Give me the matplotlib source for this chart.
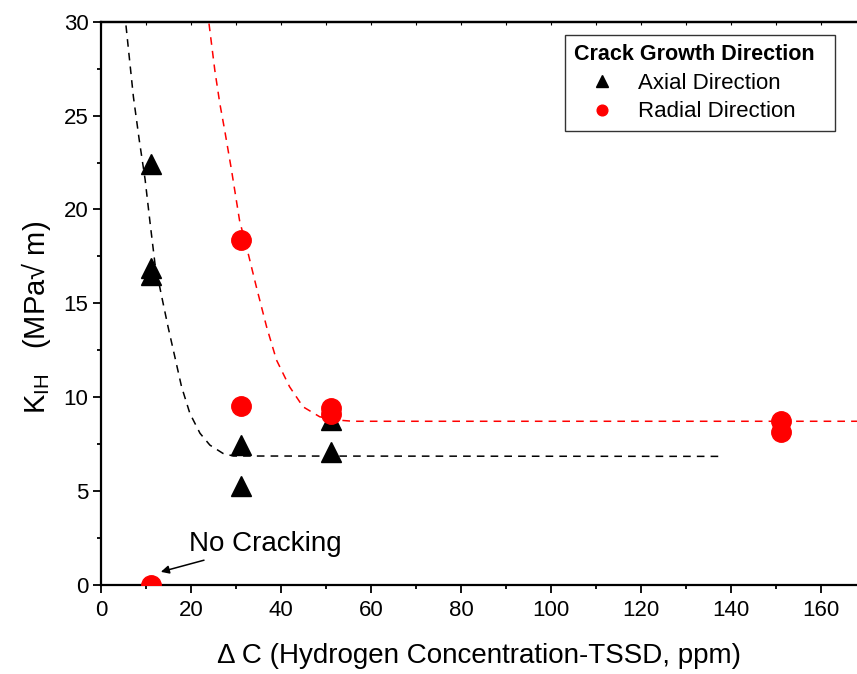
import matplotlib
matplotlib.use("Agg")
from matplotlib import pyplot as plt

# measured points (ppm above TSSD, MPa*sqrt(m))
axial_x = [11, 11, 11, 31, 31, 51, 51]
axial_y = [22.4, 16.9, 16.5, 7.45, 5.25, 8.8, 7.1]

radial_x = [11, 31, 31, 51, 51, 151, 151]
radial_y = [0.0, 18.4, 9.55, 9.45, 9.13, 8.73, 8.15]

# trend lines
axial_fit_x = [5.55, 7.2, 8.5, 9.8, 10.9, 12.0, 13.5, 14.9, 16.4, 17.9, 19.75,
               22.0, 24.2, 27.1, 29.4, 138.5]
axial_fit_y = [29.8, 26.0, 23.7, 21.6, 19.3, 17.1, 15.35, 13.75, 12.16, 10.56,
               9.14, 8.08, 7.45, 7.01, 6.87, 6.85]

radial_fit_x = [24.0, 25.3, 26.4, 27.5, 29.0, 30.8, 32.7, 34.5, 36.8, 39.0,
                41.9, 44.9, 48.6, 52.3, 56.0, 168]
radial_fit_y = [29.9, 27.4, 25.65, 24.2, 22.1, 19.4, 17.66, 15.9, 13.75, 11.98,
                10.56, 9.49, 8.96, 8.79, 8.72, 8.72]


def main():
    plt.rcParams["font.family"] = ["Liberation Sans", "DejaVu Sans"]
    plt.rcParams["mathtext.fontset"] = "custom"
    plt.rcParams["mathtext.rm"] = "Liberation Sans"

    fig = plt.figure(figsize=(8.57, 6.74), dpi=100)
    ax = fig.add_axes([101 / 857, 89 / 674, 756 / 857, 563.3 / 674])

    ax.plot(axial_fit_x, axial_fit_y, color="black", lw=1.1, dashes=(5, 4))
    ax.plot(radial_fit_x, radial_fit_y, color="red", lw=1.1, dashes=(5, 4))

    ax.plot(axial_x, axial_y, "^", color="black", ms=15, mec="black",
            label="Axial Direction", zorder=3)
    ax.plot(radial_x, radial_y, "o", color="red", ms=14, mec="red",
            label="Radial Direction", zorder=4)

    ax.set_xlim(0, 168)
    ax.set_ylim(0, 30)
    ax.set_xticks(range(0, 161, 20))
    ax.set_xticks(range(10, 161, 20), minor=True)
    ax.set_yticks(range(0, 31, 5))
    ax.set_yticks([2.5 + 5 * i for i in range(6)], minor=True)

    ax.spines["right"].set_visible(False)
    for s in ["left", "bottom", "top"]:
        ax.spines[s].set_linewidth(1.6)

    ax.tick_params(which="major", direction="out", length=5.5, width=1.3,
                   labelsize=16, top=False)
    ax.tick_params(axis="x", which="major", pad=5)
    ax.tick_params(which="minor", direction="out", length=3, width=1.3, top=False)

    # small inward ticks along the top edge
    top = ax.secondary_xaxis("top")
    top.set_xticks(range(0, 161, 10))
    top.tick_params(direction="in", length=2, width=0.8, labeltop=False)
    top.spines["top"].set_linewidth(1.6)

    ax.set_xlabel("Δ C (Hydrogen Concentration-TSSD, ppm)", fontsize=20, labelpad=16)
    ax.set_ylabel(r"K$_{\mathregular{IH}}$   (MPa√ m)", fontsize=21, labelpad=8)
    ax.yaxis.label.set_y(0.475)

    ax.annotate("No Cracking", xy=(13.3, 0.7), xytext=(19.5, 2.2),
                fontsize=20, va="center", ha="left",
                arrowprops=dict(arrowstyle="-|>", color="black", lw=1.1,
                                mutation_scale=12, shrinkA=2, shrinkB=0))

    leg = ax.legend(loc="upper left", bbox_to_anchor=(464 / 756, 550 / 563.3),
                    title="Crack Growth Direction  ", alignment="left",
                    title_fontproperties={"weight": "bold", "size": 15.5},
                    fontsize=16, markerscale=0.55, fancybox=False,
                    edgecolor="#333333", framealpha=1, borderpad=0.4,
                    handlelength=2.5, handletextpad=0.4,
                    labelspacing=0.35, borderaxespad=0)
    leg.get_frame().set_linewidth(1.0)

    fig.savefig("out.png", dpi=100)


if __name__ == "__main__":
    main()
